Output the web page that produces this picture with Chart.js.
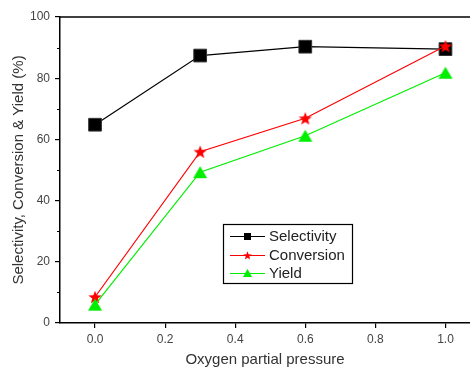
<!DOCTYPE html>
<html>
<head>
<meta charset="utf-8">
<script src="https://cdn.jsdelivr.net/npm/chart.js@4/dist/chart.umd.min.js"></script>
<style>
    html, body { margin: 0; padding: 0; background: #fff; }
    #wrap { width: 470px; height: 369px; }
</style>
</head>
<body>
<div id="wrap"><canvas id="chart" width="470" height="369"></canvas></div>
<script>
// values
var pressure = [0.0, 0.3, 0.6, 1.0];
var selectivity = [64.8, 87.4, 90.3, 89.5];
var conversion = [8.5, 56.0, 66.9, 90.5];
var yieldValues = [6.0, 49.3, 61.2, 81.8];
var xTicks = [0.0, 0.2, 0.4, 0.6, 0.8, 1.0];
var yTicks = [0, 20, 40, 60, 80, 100];
var yMinorTicks = [10, 30, 50, 70, 90];

var FONT = "'Liberation Sans', Arial, sans-serif";

function toPoints(xs, ys) {
    var pts = [];
    for (let i = 0; i < xs.length; i++) {
        pts.push({ x: xs[i], y: ys[i] });
    }
    return pts;
}

function makeStar(r, color) {
    var c = document.createElement("canvas");
    var s = Math.ceil(r * 2 + 2);
    c.width = s;
    c.height = s;
    var ctx = c.getContext("2d");
    starPath(ctx, s / 2, s / 2 + r * 0.1, r);
    ctx.fillStyle = color;
    ctx.fill();
    return c;
}

function starPath(ctx, cx, cy, r) {
    var inner = r * 0.42;
    ctx.beginPath();
    for (let i = 0; i < 10; i++) {
        var rad = i % 2 == 0 ? r : inner;
        var a = -Math.PI / 2 + (i * Math.PI) / 5;
        var px = cx + Math.cos(a) * rad;
        var py = cy + Math.sin(a) * rad;
        if (i == 0) ctx.moveTo(px, py);
        else ctx.lineTo(px, py);
    }
    ctx.closePath();
}

function makeTriangle(w, h, color) {
    var c = document.createElement("canvas");
    c.width = w + 2;
    c.height = h + 2;
    var ctx = c.getContext("2d");
    trianglePath(ctx, c.width / 2, c.height / 2, w, h);
    ctx.fillStyle = color;
    ctx.fill();
    return c;
}

function trianglePath(ctx, cx, cy, w, h) {
    ctx.beginPath();
    ctx.moveTo(cx, cy - h / 2);
    ctx.lineTo(cx + w / 2, cy + h / 2);
    ctx.lineTo(cx - w / 2, cy + h / 2);
    ctx.closePath();
}

var starImg = makeStar(7, "#ff0000");
var triImg = makeTriangle(14, 12, "#00ee00");

// axis extras: top frame line, minor ticks, boxed legend
var extrasPlugin = {
    id: "extras",
    afterDraw: function (chart) {
        var ctx = chart.ctx;
        var area = chart.chartArea;
        var y = chart.scales.y;
        ctx.save();
        ctx.strokeStyle = "#000";
        ctx.lineWidth = 1.5;
        ctx.beginPath();
        ctx.moveTo(area.left, area.top);
        ctx.lineTo(area.right, area.top);
        ctx.stroke();

        ctx.lineWidth = 1;
        for (let i = 0; i < yMinorTicks.length; i++) {
            var py = Math.round(y.getPixelForValue(yMinorTicks[i])) + 0.5;
            ctx.beginPath();
            ctx.moveTo(area.left - 3, py);
            ctx.lineTo(area.left, py);
            ctx.stroke();
        }

        // legend box
        var bx = 223, by = 224, bw = 129, bh = 59;
        ctx.fillStyle = "#fff";
        ctx.fillRect(bx, by, bw, bh);
        ctx.strokeStyle = "#000";
        ctx.lineWidth = 1.2;
        ctx.strokeRect(bx + 0.5, by + 0.5, bw, bh);

        var sets = chart.data.datasets;
        var rows = [236, 255, 273];
        ctx.font = "15px " + FONT;
        ctx.textBaseline = "middle";
        for (let i = 0; i < sets.length; i++) {
            var ry = rows[i];
            ctx.strokeStyle = sets[i].borderColor;
            ctx.lineWidth = 1;
            ctx.beginPath();
            ctx.moveTo(230, ry + 0.5);
            ctx.lineTo(265, ry + 0.5);
            ctx.stroke();
            ctx.fillStyle = sets[i].legendColor;
            if (i == 0) {
                ctx.fillRect(244, ry - 3, 7, 7);
            } else if (i == 1) {
                starPath(ctx, 247.5, ry + 0.8, 4.5);
                ctx.fill();
            } else {
                trianglePath(ctx, 247.5, ry, 9, 8);
                ctx.fill();
            }
            ctx.fillStyle = "#222";
            ctx.fillText(sets[i].label, 269, ry + 1);
        }
        ctx.restore();
    },
};

var cfg = {
    type: "line",
    data: {
        datasets: [
            {
                label: "Selectivity",
                data: toPoints(pressure, selectivity),
                borderColor: "#000000",
                backgroundColor: "#000000",
                legendColor: "#000000",
                borderWidth: 1.2,
                pointStyle: "rect",
                pointRadius: 9,
                pointBorderColor: "#333",
                pointBorderWidth: 1,
                order: 2,
            },
            {
                label: "Conversion",
                data: toPoints(pressure, conversion),
                borderColor: "#ff0000",
                backgroundColor: "#ff0000",
                legendColor: "#ff0000",
                borderWidth: 1.2,
                pointStyle: starImg,
                order: 1,
            },
            {
                label: "Yield",
                data: toPoints(pressure, yieldValues),
                borderColor: "#00ee00",
                backgroundColor: "#00ee00",
                legendColor: "#00ee00",
                borderWidth: 1.2,
                pointStyle: triImg,
                order: 0,
            },
        ],
    },
    options: {
        responsive: false,
        animation: false,
        clip: false,
        layout: {
            autoPadding: false,
            padding: { top: 17, left: 0, right: 0, bottom: 0 },
        },
        plugins: {
            legend: { display: false },
            tooltip: { enabled: false },
        },
        scales: {
            x: {
                type: "linear",
                min: -0.1,
                max: 1.07,
                afterBuildTicks: function (scale) {
                    scale.ticks = xTicks.map((v) => ({ value: v }));
                },
                afterFit: function (scale) {
                    scale.height = 46;
                },
                grid: {
                    display: true,
                    drawOnChartArea: false,
                    drawTicks: true,
                    tickLength: 5,
                    color: "#000",
                    lineWidth: 1.2,
                },
                border: { display: true, color: "#000", width: 1.5 },
                ticks: {
                    padding: 4,
                    color: "#444",
                    font: { family: FONT, size: 12 },
                    maxRotation: 0,
                    callback: (v) => v.toFixed(1),
                },
                title: {
                    display: true,
                    text: "Oxygen partial pressure",
                    color: "#333",
                    font: { family: FONT, size: 15 },
                    padding: { top: 0, bottom: 0 },
                },
            },
            y: {
                type: "linear",
                min: 0,
                max: 100,
                afterBuildTicks: function (scale) {
                    scale.ticks = yTicks.map((v) => ({ value: v }));
                },
                afterFit: function (scale) {
                    scale.width = 60;
                },
                grid: {
                    display: true,
                    drawOnChartArea: false,
                    drawTicks: true,
                    tickLength: 5,
                    color: "#000",
                    lineWidth: 1.2,
                },
                border: { display: true, color: "#000", width: 1.5 },
                ticks: {
                    padding: 5,
                    color: "#444",
                    font: { family: FONT, size: 12 },
                },
                title: {
                    display: true,
                    text: "Selectivity, Conversion & Yield (%)",
                    color: "#333",
                    font: { family: FONT, size: 15 },
                    padding: { top: 10, bottom: 0 },
                },
            },
        },
    },
    plugins: [extrasPlugin],
};

new Chart(document.getElementById("chart"), cfg);
</script>
</body>
</html>
